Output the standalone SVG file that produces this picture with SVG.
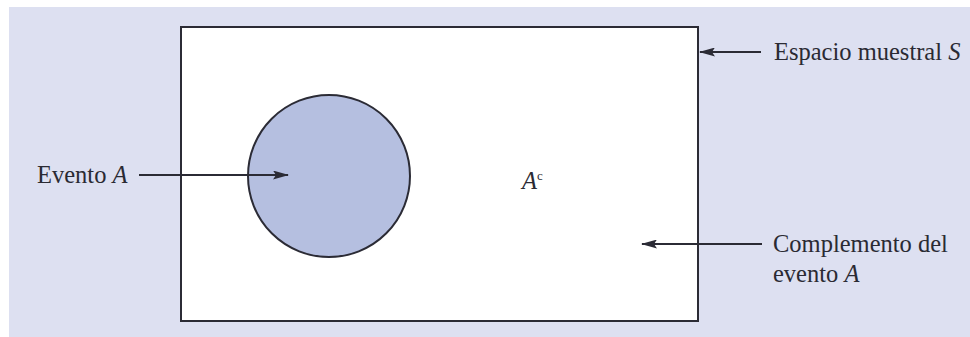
<svg xmlns="http://www.w3.org/2000/svg" width="970" height="337" viewBox="0 0 970 337">
<style>
.t{font-family:"Liberation Serif","Times New Roman",serif;font-size:24.5px;fill:#2a2a33}
.i{font-style:italic}
.c{stroke:#2b2b35;stroke-width:2;fill:none}
</style>
<defs>
<marker id="ah" markerWidth="16" markerHeight="9" refX="15" refY="4.5" orient="auto" markerUnits="userSpaceOnUse">
<path d="M0,0 L16,4.5 L0,9 L3,4.5 Z" fill="#2b2b35"/>
</marker>
</defs>
<rect x="0" y="0" width="970" height="337" fill="#ffffff"/>
<rect x="9" y="7" width="961" height="330" fill="#dde0f1"/>
<g id="sample-space">
<rect x="181" y="27" width="517" height="294" fill="#ffffff" stroke="#2b2b35" stroke-width="2"/>
</g>
<g id="event-a">
<circle cx="329" cy="176" r="81" fill="#b5bfe0" stroke="#2b2b35" stroke-width="2"/>
</g>
<g id="complement-label">
<text class="t i" x="522" y="189" font-size="22">A<tspan font-size="13" dy="-9" font-style="normal">c</tspan></text>
</g>
<g id="label-espacio">
<text class="t" x="774" y="60">Espacio muestral <tspan class="i">S</tspan></text>
</g>
<g id="label-evento">
<text class="t" x="37" y="183">Evento <tspan class="i">A</tspan></text>
</g>
<g id="label-complemento">
<text class="t" x="773" y="252">Complemento del</text>
<text class="t" x="773" y="282">evento <tspan class="i">A</tspan></text>
</g>
<g id="connectors">
<line class="c" x1="761" y1="52" x2="700" y2="52" marker-end="url(#ah)"/>
<line class="c" x1="139" y1="175" x2="288" y2="175" marker-end="url(#ah)"/>
<line class="c" x1="762" y1="244" x2="642" y2="244" marker-end="url(#ah)"/>
</g>
</svg>
